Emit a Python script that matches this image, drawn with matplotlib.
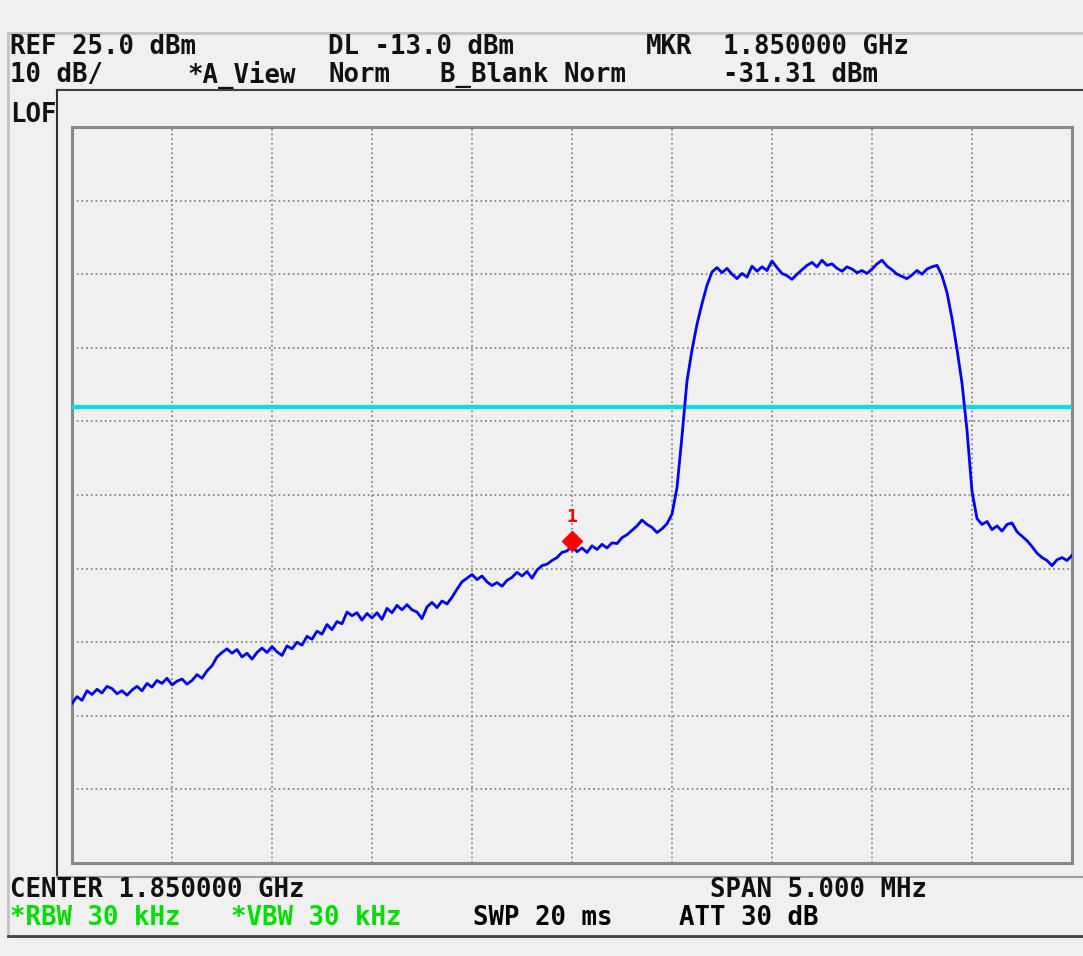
import numpy as np
import matplotlib.pyplot as plt
from matplotlib.lines import Line2D

# 表示条件
center_mhz = 1850.0
span_mhz = 5.0
ref_dbm = 25.0
db_per_div = 10.0
display_line_dbm = -13.0
marker_mhz = 1850.0
marker_dbm = -31.31

# トレース値 (dBm), 掃引の左端から右端まで等間隔
trace_dbm = [
    -53.3, -52.4, -52.9, -51.6, -52.1, -51.4, -51.9, -51.0, -51.3, -52.0,
    -51.6, -52.2, -51.5, -51.0, -51.6, -50.6, -51.1, -50.2, -50.6, -49.9,
    -50.8, -50.3, -50.0, -50.7, -50.2, -49.4, -49.9, -48.9, -48.2, -47.0,
    -46.4, -45.9, -46.5, -46.0, -47.0, -46.5, -47.3, -46.4, -45.8, -46.4,
    -45.6, -46.3, -46.8, -45.5, -45.9, -45.0, -45.4, -44.2, -44.6, -43.5,
    -43.9, -42.6, -43.3, -42.2, -42.5, -40.9, -41.4, -41.0, -42.0, -41.1,
    -41.7, -41.0, -41.9, -40.4, -41.0, -40.0, -40.6, -39.9, -40.6, -40.9,
    -41.8, -40.2, -39.6, -40.3, -39.4, -39.8, -38.9, -37.8, -36.8, -36.3,
    -35.8, -36.5, -36.0, -36.8, -37.3, -36.9, -37.4, -36.6, -36.2, -35.5,
    -36.0, -35.4, -36.3, -35.2, -34.6, -34.4, -33.9, -33.5, -32.8, -32.6,
    -31.9, -32.7, -32.2, -32.8, -31.9, -32.4, -31.7, -32.2, -31.5, -31.6,
    -30.8, -30.4, -29.8, -29.2, -28.4, -29.0, -29.4, -30.1, -29.6, -28.9,
    -27.6, -24.0, -17.0, -9.5, -5.3, -1.8, 1.0, 3.5, 5.3, 5.9,
    5.2, 5.8, 5.0, 4.4, 5.1, 4.6, 6.1, 5.4, 6.0, 5.5,
    6.8, 5.9, 5.1, 4.8, 4.3, 5.0, 5.6, 6.2, 6.6, 6.0,
    6.9, 6.2, 6.4, 5.8, 5.4, 6.0, 5.7, 5.2, 5.5, 5.1,
    5.7, 6.4, 6.9, 6.1, 5.6, 5.0, 4.7, 4.4, 4.9, 5.5,
    5.0, 5.7, 6.0, 6.2, 4.8, 2.5, -1.0, -5.2, -9.8, -16.2,
    -24.5, -28.2, -29.0, -28.6, -29.7, -29.2, -29.9, -29.0, -28.8, -30.0,
    -30.6, -31.2, -32.0, -32.9, -33.5, -33.9, -34.6, -33.8, -33.5, -33.9,
    -33.2,
]

header_top = [('REF 25.0 dBm', 10), ('DL -13.0 dBm', 328), ('MKR', 646), ('1.850000 GHz', 723)]
header_bot = [('10 dB/', 10), ('*A_View', 187), ('Norm', 328), ('B_Blank Norm', 440), ('-31.31 dBm', 723)]
footer_top = [('CENTER 1.850000 GHz', 10), ('SPAN 5.000 MHz', 710)]
footer_bot = [('*RBW 30 kHz', 10, '#00dd00'), ('*VBW 30 kHz', 231, '#00dd00'),
              ('SWP 20 ms', 473, 'black'), ('ATT 30 dB', 679, 'black')]

BG = '#f0f0f0'
W, H = 1083, 956
fig = plt.figure(figsize=(W / 100, H / 100), dpi=100, facecolor=BG)

# 画面の枠と文字 (ピクセル座標)
frame = fig.add_axes([0, 0, 1, 1], zorder=0)
frame.set_xlim(0, W)
frame.set_ylim(H, 0)
frame.axis('off')
frame.add_line(Line2D([8, W], [33, 33], color='#c4c4c4', lw=2))
frame.add_line(Line2D([8, 8], [33, 936], color='#c4c4c4', lw=2))
frame.add_line(Line2D([57, W], [90, 90], color='#404040', lw=1.5))
frame.add_line(Line2D([57, 57], [90, 877], color='#303030', lw=1.5))
frame.add_line(Line2D([57, W], [877, 877], color='#a0a0a0', lw=1.5))
frame.add_line(Line2D([8, W], [936, 936], color='#404040', lw=2))

font = dict(family='DejaVu Sans Mono', fontsize=18.5, fontweight='bold', va='center', ha='left')
for s, x in header_top:
    frame.text(x, 47, s, color='#111111', **font)
for s, x in header_bot:
    frame.text(x, 75, s, color='#111111', **font)
frame.text(10, 115, 'LOF', color='#111111', **font)
for s, x in footer_top:
    frame.text(x, 890, s, color='#111111', **font)
for s, x, c in footer_bot:
    frame.text(x, 918, s, color=c, **font)

# スペクトル表示
ax = fig.add_axes([72 / W, 1 - 863 / H, 1000 / W, 736 / H], zorder=1)
ax.set_facecolor(BG)
f_start = center_mhz - span_mhz / 2
f_stop = center_mhz + span_mhz / 2
freqs = np.linspace(f_start, f_stop, len(trace_dbm))
bottom = ref_dbm - 10 * db_per_div

ax.set_xlim(f_start, f_stop)
ax.set_ylim(bottom, ref_dbm)
ax.set_xticks(np.linspace(f_start, f_stop, 11))
ax.set_yticks(np.linspace(bottom, ref_dbm, 11))
ax.grid(True, color='#8a8a8a', lw=1.3, linestyle=(0, (1, 1.6)))
ax.tick_params(length=0, labelbottom=False, labelleft=False)
for sp in ax.spines.values():
    sp.set_color('#888888')
    sp.set_linewidth(2.2)

ax.axhline(display_line_dbm, color='#00e0e8', lw=3, zorder=3)
ax.plot(freqs, trace_dbm, color='#0000ff', lw=2, zorder=4)

ax.plot(marker_mhz, marker_dbm, marker='D', color='#ff0000', markersize=10, zorder=5)
ax.annotate('1', (marker_mhz, marker_dbm), xytext=(0, 11), textcoords='offset points',
            ha='center', va='bottom', color='#ff0000', fontsize=13, fontweight='bold',
            family='DejaVu Sans Mono', zorder=5)

fig.savefig('out.png', dpi=100, facecolor=BG)
